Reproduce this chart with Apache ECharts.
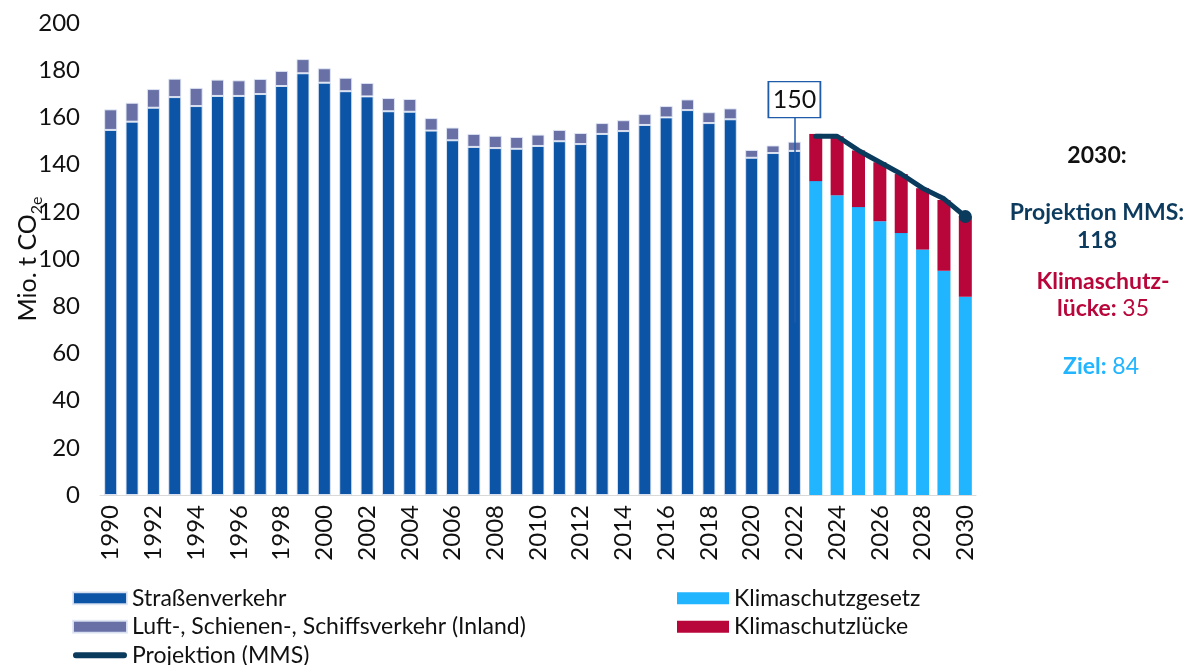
<!DOCTYPE html>
<html lang="de">
<head>
<meta charset="UTF-8">
<title>Verkehr Emissionen</title>
<script src="https://cdn.jsdelivr.net/npm/echarts@6/dist/echarts.min.js"></script>
</head>
<body style="margin:0;background:#fff">
<div id="container" style="width:1192px;height:665px"></div>
<script type="text/javascript">
// Jahre 1990-2030
var years = [];
for (var y = 1990; y <= 2030; y++) years.push(String(y));

// Straßenverkehr 1990-2022
var road = [154.7, 158.2, 164.1, 168.6, 164.8, 169.1, 169.1, 169.9, 173.3, 178.7,
            174.7, 171.1, 168.9, 162.6, 162.4, 154.4, 150.3, 147.5, 147.0, 146.7,
            147.9, 149.9, 148.7, 153.0, 154.2, 156.8, 160.0, 163.1, 157.6, 159.2,
            142.9, 144.9, 145.8];
// Luft-, Schienen-, Schiffsverkehr 1990-2022
var other = [8.7, 8.0, 7.9, 7.8, 7.7, 6.9, 6.6, 6.4, 6.4, 6.0,
             6.1, 5.7, 5.7, 5.6, 5.4, 5.3, 5.4, 5.5, 5.2, 5.0,
             4.8, 4.8, 4.7, 4.6, 4.6, 4.6, 4.8, 4.5, 4.6, 4.6,
             3.3, 3.2, 3.9];
// Klimaschutzgesetz 2023-2030
var target = [133, 127, 122, 116, 111, 104, 95, 84];
// Klimaschutzlücke 2023-2030
var gap = [20, 25, 24, 25, 25, 26, 30, 34];
// Projektion (MMS) 2023-2030
var mms = [152, 152, 146, 141, 136, 130, 125.5, 118];

var calloutYear = '2022';
var calloutLabel = '150';

var nHist = road.length;
var nAll = years.length;

function pad(arr, before, after) {
    var res = [];
    for (var i = 0; i < before; i++) res.push(null);
    res = res.concat(arr);
    for (var j = 0; j < after; j++) res.push(null);
    return res;
}

var mmsData = pad(mms, nHist, 0).map(function (v, i) {
    if (i === nAll - 1) return { value: v, symbol: 'circle', symbolSize: 13 };
    return v;
});

var FONT = 'Lato, "Noto Sans", sans-serif';
var histBorder = { borderColor: 'rgba(225,232,245,0.9)', borderWidth: 1 };
// abgerundete Linie als Legendensymbol
var lineIcon = 'path://M3,0 L53,0 A3,3 0 0 1 53,6 L3,6 A3,3 0 0 1 3,0 Z';

var myChart = echarts.init(document.getElementById('container'));
var option = {
    backgroundColor: '#fff',
    textStyle: { fontFamily: FONT },
    animation: false,
    grid: { left: 100, right: 216, top: 23, bottom: 170, containLabel: false, outerBoundsMode: 'none' },
    legend: [{
        orient: 'vertical',
        left: 72,
        top: 586,
        height: 100,
        padding: 0,
        itemWidth: 54,
        itemHeight: 12,
        itemGap: 4,
        symbolKeepAspect: true,
        textStyle: { fontSize: 23, lineHeight: 24.5, color: '#111', fontFamily: FONT },
        data: [
            { name: 'Straßenverkehr', icon: 'rect' },
            { name: 'Luft-, Schienen-, Schiffsverkehr (Inland)', icon: 'rect' },
            { name: 'Projektion (MMS)', icon: lineIcon }
        ]
    }, {
        orient: 'vertical',
        left: 677,
        top: 586,
        height: 100,
        padding: 0,
        itemWidth: 52,
        itemHeight: 12,
        itemGap: 4,
        textStyle: { fontSize: 23, lineHeight: 24.5, color: '#111', fontFamily: FONT },
        data: [
            { name: 'Klimaschutzgesetz', icon: 'rect' },
            { name: 'Klimaschutzlücke', icon: 'rect' }
        ]
    }],
    xAxis: {
        type: 'category',
        data: years,
        axisTick: { show: false },
        axisLine: { lineStyle: { color: '#d9d9d9', width: 1 } },
        axisLabel: {
            rotate: 90,
            interval: 1,
            margin: 10,
            fontSize: 24,
            overflow: 'none',
            color: '#111',
            fontFamily: FONT
        }
    },
    yAxis: {
        type: 'value',
        min: 0,
        max: 200,
        interval: 20,
        splitLine: { show: false },
        axisLine: { show: false },
        axisTick: { show: false },
        axisLabel: { fontSize: 24, color: '#111', margin: 20, fontFamily: FONT },
        name: '{a|Mio. t CO}{s|2e}',
        nameLocation: 'middle',
        nameRotate: 90,
        nameGap: 60,
        nameMoveOverlap: false,
        nameTextStyle: {
            rich: {
                a: { fontSize: 25, color: '#111', fontFamily: FONT, lineHeight: 34, verticalAlign: 'bottom' },
                s: { fontSize: 16, color: '#111', fontFamily: FONT, lineHeight: 34, verticalAlign: 'bottom', padding: [0, 0, -5, 0] }
            }
        }
    },
    series: [{
        name: 'Straßenverkehr',
        type: 'bar',
        stack: 'total',
        barWidth: 13,
        data: pad(road, 0, nAll - nHist),
        itemStyle: Object.assign({ color: '#0c54a6' }, histBorder)
    }, {
        name: 'Luft-, Schienen-, Schiffsverkehr (Inland)',
        type: 'bar',
        stack: 'total',
        data: pad(other, 0, nAll - nHist),
        itemStyle: Object.assign({ color: '#6870a6' }, histBorder)
    }, {
        name: 'Klimaschutzgesetz',
        type: 'bar',
        stack: 'total',
        data: pad(target, nHist, 0),
        itemStyle: { color: '#21b4ff' }
    }, {
        name: 'Klimaschutzlücke',
        type: 'bar',
        stack: 'total',
        data: pad(gap, nHist, 0),
        itemStyle: { color: '#b8063a' }
    }, {
        name: 'Projektion (MMS)',
        type: 'line',
        data: mmsData,
        symbol: 'none',
        z: 5,
        lineStyle: { color: '#0a3a5c', width: 5, cap: 'round', join: 'round' },
        itemStyle: { color: '#0a3a5c' },
        markLine: {
            silent: true,
            symbol: 'none',
            label: { show: false },
            lineStyle: { color: '#1f5ba8', width: 1.5, type: 'solid' },
            data: [[{ coord: [calloutYear, 73] }, { coord: [calloutYear, 160] }]]
        },
        markPoint: {
            silent: true,
            symbol: 'rect',
            symbolSize: [52, 36],
            itemStyle: { color: '#fff', borderColor: '#1f5ba8', borderWidth: 1.5 },
            label: {
                show: true,
                position: 'inside',
                formatter: calloutLabel,
                color: '#111',
                fontSize: 25,
                fontFamily: FONT
            },
            data: [{ coord: [calloutYear, 167.5] }]
        }
    }],
    graphic: [{
        type: 'text', x: 1097, y: 156,
        style: { text: '2030:', font: 'bold 23px ' + FONT, fill: '#111', align: 'center', verticalAlign: 'middle' }
    }, {
        type: 'text', x: 1097, y: 213,
        style: { text: 'Projektion MMS:', font: 'bold 23px ' + FONT, fill: '#0d3b5e', align: 'center', verticalAlign: 'middle' }
    }, {
        type: 'text', x: 1097, y: 241,
        style: { text: '118', font: 'bold 23px ' + FONT, fill: '#0d3b5e', align: 'center', verticalAlign: 'middle' }
    }, {
        type: 'text', x: 1103, y: 282,
        style: { text: 'Klimaschutz-', font: 'bold 23px ' + FONT, fill: '#b8063a', align: 'center', verticalAlign: 'middle' }
    }, {
        type: 'text', x: 1103, y: 309,
        style: {
            text: '{b|lücke: }{n|35}',
            align: 'center',
            verticalAlign: 'middle',
            rich: {
                b: { font: 'bold 23px ' + FONT, fill: '#b8063a' },
                n: { font: '23px ' + FONT, fill: '#b8063a' }
            }
        }
    }, {
        type: 'text', x: 1101, y: 367,
        style: {
            text: '{b|Ziel: }{n|84}',
            align: 'center',
            verticalAlign: 'middle',
            rich: {
                b: { font: 'bold 23px ' + FONT, fill: '#21b4ff' },
                n: { font: '23px ' + FONT, fill: '#21b4ff' }
            }
        }
    }]
};
myChart.setOption(option);
</script>
</body>
</html>
